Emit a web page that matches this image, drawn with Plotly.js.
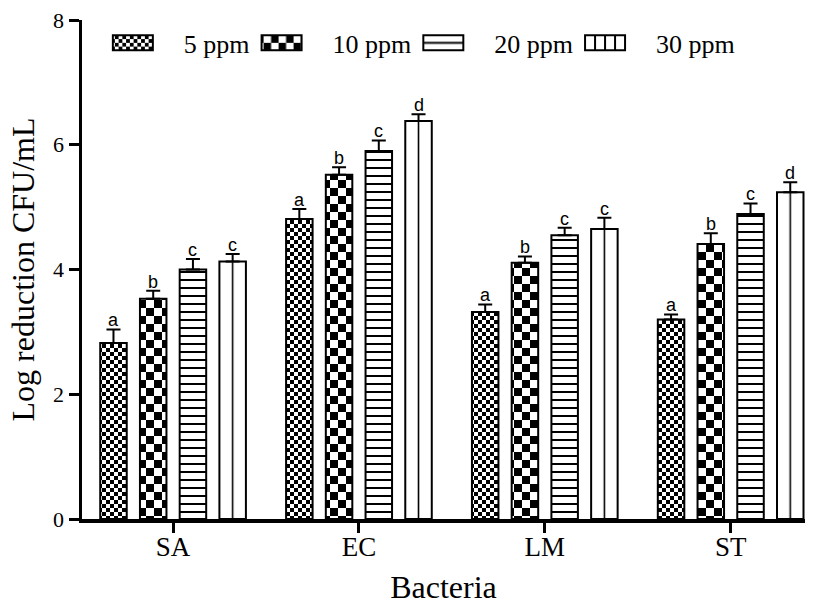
<!DOCTYPE html>
<html>
<head>
<meta charset="utf-8">
<script src="https://cdn.plot.ly/plotly-3.0.1.min.js"></script>
<style>html,body{margin:0;padding:0;background:#fff;}#chart{width:818px;height:605px;}</style>
</head>
<body>
<div id="chart"></div>
<script>
const categories = ['SA', 'EC', 'LM', 'ST'];
const seriesNames = ['5 ppm', '10 ppm', '20 ppm', '30 ppm'];
const v5  = [2.82, 4.81, 3.32, 3.20];
const e5  = [0.22, 0.16, 0.12, 0.08];
const v10 = [3.53, 5.52, 4.11, 4.41];
const e10 = [0.13, 0.12, 0.10, 0.17];
const v20 = [4.00, 5.90, 4.55, 4.89];
const e20 = [0.17, 0.17, 0.12, 0.17];
const v30 = [4.13, 6.38, 4.65, 5.24];
const e30 = [0.12, 0.11, 0.18, 0.16];
const l5  = ['a', 'a', 'a', 'a'];
const l10 = ['b', 'b', 'b', 'b'];
const l20 = ['c', 'c', 'c', 'c'];
const l30 = ['c', 'd', 'c', 'd'];
const yTicks = [0, 2, 4, 6, 8];

const values = [v5, v10, v20, v30];
const errors = [e5, e10, e20, e30];
const letters = [l5, l10, l20, l30];

const W = 818, H = 605;
const M = {l: 82, r: 13, t: 20, b: 86};
const xRange = [-0.49, 3.40];
const bargap = 0.145, bargroupgap = 0.333;
const serif = 'Liberation Serif, Times New Roman, serif';
const sans = 'Liberation Sans, Arial, sans-serif';

const traces = seriesNames.map((name, i) => ({
  type: 'bar',
  name: name,
  x: categories,
  y: values[i],
  marker: {color: '#ffffff', line: {color: '#000000', width: 2}},
  error_y: {type: 'data', array: errors[i], arrayminus: errors[i].map(() => 0), symmetric: false,
            color: '#000000', thickness: 2, width: 7},
  hoverinfo: 'none'
}));

const plotW = W - M.l - M.r;
const catPx = plotW / (xRange[1] - xRange[0]);
const slotPx = catPx * (1 - bargap) / seriesNames.length;
const annotations = [];
seriesNames.forEach((s, j) => {
  categories.forEach((c, k) => {
    annotations.push({
      x: c, y: values[j][k] + errors[j][k], xref: 'x', yref: 'y',
      text: letters[j][k], showarrow: false, yanchor: 'bottom',
      xshift: (j - (seriesNames.length - 1) / 2) * slotPx, yshift: -3,
      font: {family: sans, size: 18, color: '#000'}
    });
  });
});

const layout = {
  width: W, height: H,
  margin: M,
  paper_bgcolor: '#ffffff', plot_bgcolor: '#ffffff',
  barmode: 'group', bargap: bargap, bargroupgap: bargroupgap,
  showlegend: true,
  legend: {orientation: 'h', x: 0.033, xanchor: 'left', y: 0.954, yanchor: 'middle',
           font: {family: serif, size: 26, color: '#000'}, itemwidth: 68,
           bgcolor: 'rgba(0,0,0,0)', traceorder: 'normal'},
  xaxis: {
    type: 'category', range: xRange, showline: true, linecolor: '#000', linewidth: 3.5,
    ticks: 'outside', ticklen: 10, tickwidth: 3, tickcolor: '#000', ticklabelstandoff: -9,
    tickfont: {family: serif, size: 27, color: '#000'}, showgrid: false, zeroline: false,
    title: {text: 'Bacteria', font: {family: serif, size: 32, color: '#000'}, standoff: 21},
    automargin: false
  },
  yaxis: {
    range: [0, 8], tickvals: yTicks, ticktext: yTicks.map(String),
    showline: true, linecolor: '#000', linewidth: 3.5,
    ticks: 'outside', ticklen: 10, tickwidth: 3, tickcolor: '#000',
    tickfont: {family: serif, size: 22, color: '#000'}, showgrid: false, zeroline: false,
    title: {text: 'Log reduction CFU/mL', font: {family: serif, size: 32, color: '#000'}, standoff: 10},
    automargin: false
  },
  annotations: annotations
};

const NS = 'http://www.w3.org/2000/svg';
function el(tag, attrs, parent) {
  const e = document.createElementNS(NS, tag);
  for (const k in attrs) e.setAttribute(k, attrs[k]);
  if (parent) parent.appendChild(e);
  return e;
}
function checker(defs, id, s) {
  const p = el('pattern', {id: id, patternUnits: 'userSpaceOnUse', width: 2 * s, height: 2 * s}, defs);
  el('rect', {x: 0, y: 0, width: 2 * s, height: 2 * s, fill: '#fff'}, p);
  el('rect', {x: 0, y: 0, width: s, height: s, fill: '#000'}, p);
  el('rect', {x: s, y: s, width: s, height: s, fill: '#000'}, p);
}
function bboxLines(defs, id, pos, vertical, thick) {
  const p = el('pattern', {id: id, patternUnits: 'objectBoundingBox', patternContentUnits: 'objectBoundingBox',
                           width: 1, height: 1}, defs);
  el('rect', {x: 0, y: 0, width: 1, height: 1, fill: '#fff'}, p);
  pos.forEach(v => {
    if (vertical) el('rect', {x: v - thick / 2, y: 0, width: thick, height: 1, fill: '#000'}, p);
    else el('rect', {x: 0, y: v - thick / 2, width: 1, height: thick, fill: '#000'}, p);
  });
}
function applyPatterns(gd) {
  const svg = gd.querySelector('svg.main-svg');
  let defs = svg.querySelector('defs');
  if (!defs) defs = el('defs', {}, svg);
  checker(defs, 'chkS', 4);
  checker(defs, 'chkB', 8);
  checker(defs, 'chkSL', 3.75);
  checker(defs, 'chkBL', 7.5);
  const hp = el('pattern', {id: 'hl', patternUnits: 'userSpaceOnUse', width: 8, height: 8}, defs);
  el('rect', {x: 0, y: 0, width: 8, height: 8, fill: '#fff'}, hp);
  el('rect', {x: 0, y: 3, width: 8, height: 2, fill: '#000'}, hp);
  bboxLines(defs, 'vl', [0.5], true, 0.06);
  bboxLines(defs, 'hlL', [0.5], false, 0.13);
  bboxLines(defs, 'vlL', [0.25, 0.5, 0.75], true, 0.05);
  const barFills = ['url(#chkS)', 'url(#chkB)', 'url(#hl)', 'url(#vl)'];
  const legFills = ['url(#chkSL)', 'url(#chkBL)', 'url(#hlL)', 'url(#vlL)'];
  gd.querySelectorAll('.barlayer .trace').forEach((tr, i) => {
    tr.querySelectorAll('.points path').forEach(p => { p.style.fill = barFills[i]; });
  });
  gd.querySelectorAll('.legend .traces').forEach((tr, i) => {
    tr.querySelectorAll('.legendpoints path').forEach(p => {
      p.setAttribute('d', 'M-32,7.5H8V-7.5H-32Z');
      p.style.fill = legFills[i];
      p.style.strokeWidth = '2px';
    });
  });
}

Plotly.newPlot('chart', traces, layout, {staticPlot: true, displayModeBar: false})
  .then(gd => applyPatterns(gd));
</script>
</body>
</html>
